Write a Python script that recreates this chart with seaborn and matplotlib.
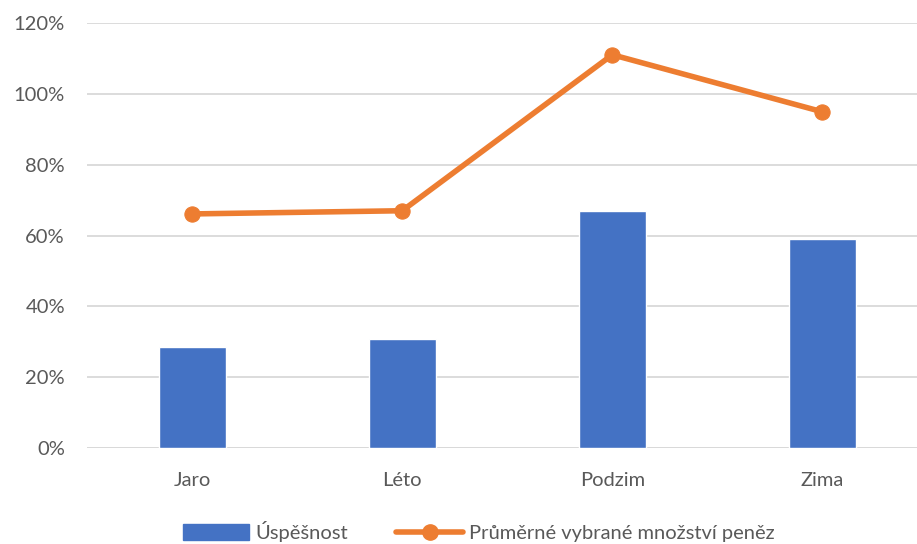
import matplotlib
matplotlib.use("Agg")
import matplotlib.pyplot as plt
from matplotlib.ticker import PercentFormatter
from matplotlib.patches import Patch
from matplotlib.lines import Line2D
import seaborn as sns

# Values (fractions, shown as %)
seasons = ["Jaro", "Léto", "Podzim", "Zima"]
success = [0.287, 0.309, 0.668, 0.589]
avg_money = [0.661, 0.670, 1.110, 0.949]
y_ticks = [0, 0.2, 0.4, 0.6, 0.8, 1.0, 1.2]

BLUE = "#4472C4"
ORANGE = "#ED7D31"
TEXT = "#595959"

sns.set_theme(style="white")
plt.rcParams["font.family"] = ["Lato", "DejaVu Sans"]

fig = plt.figure(figsize=(9.17, 5.44), dpi=100)
ax = fig.add_axes([0.095, 0.176, 0.905, 0.782])

sns.barplot(x=seasons, y=success, color=BLUE, width=0.32, saturation=1, ax=ax)
sns.lineplot(x=seasons, y=avg_money, color=ORANGE, linewidth=4, marker="o",
             markersize=11, markeredgecolor=ORANGE, sort=False, ax=ax)

ax.set_ylim(0, 1.2)
ax.set_xlim(-0.5, 3.45)
ax.set_yticks(y_ticks)
ax.yaxis.set_major_formatter(PercentFormatter(xmax=1, decimals=0))
ax.grid(axis="y", color="#D9D9D9", linewidth=1.3)
ax.set_axisbelow(True)
for side in ["top", "right", "left", "bottom"]:
    ax.spines[side].set_visible(False)
ax.axhline(0, color="#D9D9D9", linewidth=1.3, zorder=0)
ax.tick_params(axis="y", length=0, pad=16, labelsize=14.5, labelcolor=TEXT)
ax.tick_params(axis="x", length=0, pad=17, labelsize=14.5, labelcolor=TEXT)
ax.set_xlabel("")
ax.set_ylabel("")

handles = [
    Patch(facecolor=BLUE, edgecolor=BLUE),
    Line2D([0], [0], color=ORANGE, linewidth=4, marker="o", markersize=11),
]
fig.legend(handles, ["Úspěšnost", "Průměrné vybrané množství peněz"],
           loc="lower center", bbox_to_anchor=(0.522, -0.03), ncol=2,
           frameon=False, fontsize=14.5, handlelength=3.3, handleheight=0.8,
           handletextpad=0.3, columnspacing=2.4, labelcolor=TEXT)

fig.savefig("out.png", dpi=100)
